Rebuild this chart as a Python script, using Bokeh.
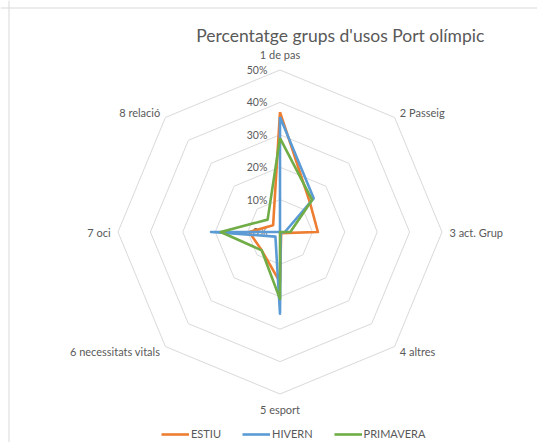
import numpy as np
from bokeh.plotting import figure
from bokeh.models import Range1d, Label, Legend, LegendItem, Span
from bokeh.core.properties import value
from bokeh.embed import file_html
from bokeh.resources import INLINE

# ---- data ----
categories = ["1 de pas", "2 Passeig", "3 act. Grup", "4 altres",
              "5 esport", "6 necessitats vitals", "7 oci", "8 relació"]
estiu = [37.0, 13.0, 11.7, 0.5, 15.5, 8.0, 9.5, 3.0]
hivern = [35.5, 14.7, 1.5, 0.3, 25.2, 2.0, 21.3, 0.0]
primavera = [29.0, 14.0, 3.2, 0.0, 20.7, 8.0, 18.3, 5.4]
series_names = ["ESTIU", "HIVERN", "PRIMAVERA"]
ticks = [0, 10, 20, 30, 40, 50]
tick_labels = ["0%", "10%", "20%", "30%", "40%", "50%"]
title_text = "Percentatge grups d'usos Port olímpic"

# ---- style / layout ----
colors = ["#ED7D31", "#5B9BD5", "#70AD47"]
GRID = "#D9D9D9"
TXT = "#595959"
FONT = "Lato"
W, H = 537, 442
PX = 3.24              # pixels per percent unit
CX, CY = 279.5, 231.5  # centre, px from left / top of the plot

p = figure(width=W, height=H,
           x_range=Range1d(-CX / PX, (W - CX) / PX),
           y_range=Range1d(-(H - CY) / PX, CY / PX),
           output_backend="svg", toolbar_location=None, min_border=0,
           x_axis_location=None, y_axis_location=None)
p.grid.visible = False
p.outline_line_color = None
p.background_fill_color = "white"
p.border_fill_color = "white"

n = len(categories)
theta = np.pi / 2 - np.arange(n) * 2 * np.pi / n
cos_t, sin_t = np.cos(theta), np.sin(theta)

# chart-area frame (left and top edges visible in the reference)
p.add_layout(Span(location=(8.5 - CX) / PX, dimension="height",
                  line_color=GRID, line_width=1))
p.add_layout(Span(location=(CY - 7.5) / PX, dimension="width",
                  line_color=GRID, line_width=1))

# rings
xs, ys = [], []
for t in ticks[1:]:
    xs.append(list(np.append(t * cos_t, t * cos_t[0])))
    ys.append(list(np.append(t * sin_t, t * sin_t[0])))
p.multi_line(xs, ys, line_color=GRID, line_width=1)

# tick labels
p.text(x=[-3.9] * len(ticks), y=ticks, text=tick_labels,
       text_align="right", text_baseline="middle",
       text_font=value(FONT), text_font_size="10.5px", text_color=TXT)

# category labels
for c, s, tt in zip(cos_t, sin_t, categories):
    vertical = abs(c) < 1e-6
    r = 54.7 if vertical else 52.3
    aa = "center" if vertical else ("left" if c > 0 else "right")
    p.text(x=[r * c], y=[r * s], text=[tt], text_align=aa,
           text_baseline="middle", text_font=value(FONT),
           text_font_size="11px", text_color=TXT)

# series
renderers = []
for vals, col in zip([estiu, hivern, primavera], colors):
    v = np.array(vals)
    x = np.append(v * cos_t, v[0] * cos_t[0])
    y = np.append(v * sin_t, v[0] * sin_t[0])
    r = p.line(x, y, line_color=col, line_width=2.6, line_join="round")
    renderers.append(r)

# title
p.add_layout(Label(x=18.6, y=60.6, text=title_text, text_align="center",
                   text_baseline="middle", text_font=FONT,
                   text_font_size="17.5px", text_color=TXT))

# legend
legend = Legend(items=[LegendItem(label=nm, renderers=[r])
                       for nm, r in zip(series_names, renderers)],
                orientation="horizontal", location=(161, 2),
                border_line_color=None, background_fill_alpha=0,
                glyph_width=28, glyph_height=12, label_standoff=2, spacing=21,
                label_text_font=FONT, label_text_font_size="11px",
                label_text_color=TXT, padding=0, margin=0)
p.add_layout(legend)

open("out.html", "w").write(file_html(p, INLINE))
